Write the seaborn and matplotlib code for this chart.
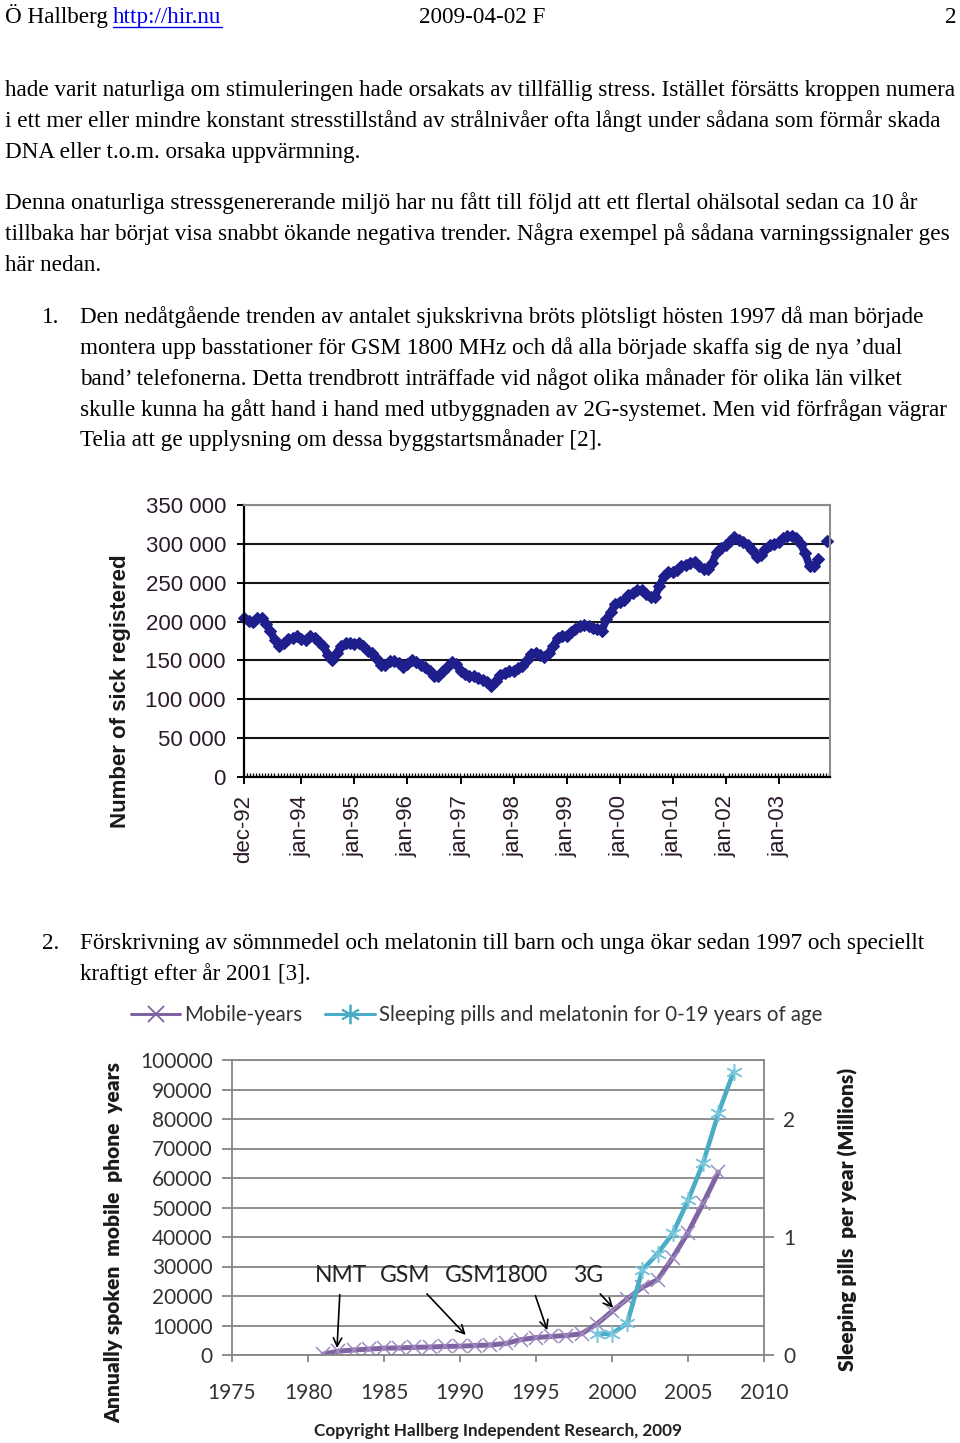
import pandas as pd
import matplotlib.pyplot as plt
import matplotlib.dates as mdates
from matplotlib.lines import Line2D
from matplotlib.ticker import FuncFormatter
import numpy as np
import seaborn as sns

# ---- data: sick registered, monthly from dec-92 to dec-03 (thousands), gap in nov-03
sick_thousands = [205, 201, 199, 204, 204, 197, 188, 176, 168, 172, 177, 179, 181,
                  178, 176, 181, 179, 174, 169, 157, 151, 160, 168, 172, 172,
                  171, 173, 169, 162, 159, 153, 144, 144, 149, 149, 147, 142,
                  145, 151, 148, 144, 141, 137, 130, 130, 137, 141, 148, 145,
                  137, 133, 130, 130, 128, 125, 122, 117, 124, 131, 134, 136,
                  137, 140, 143, 150, 158, 160, 157, 155, 160, 168, 179, 182,
                  182, 186, 190, 194, 195, 194, 192, 190, 188, 203, 212, 223,
                  225, 228, 234, 237, 240, 241, 236, 231, 232, 246, 258, 264,
                  264, 267, 272, 273, 276, 277, 272, 268, 268, 276, 290, 295,
                  298, 304, 309, 305, 302, 298, 292, 283, 286, 294, 298, 300,
                  302, 307, 310, 310, 307, 300, 288, 272, 272, 280, None, 304]
sick_segment = [0] * 131 + [1] * 2
sick_tick_dates = ["1992-12-01", "1994-01-01", "1995-01-01", "1996-01-01",
                   "1997-01-01", "1998-01-01", "1999-01-01", "2000-01-01",
                   "2001-01-01", "2002-01-01", "2003-01-01"]
sick_tick_labels = ["dec-92", "jan-94", "jan-95", "jan-96", "jan-97", "jan-98",
                    "jan-99", "jan-00", "jan-01", "jan-02", "jan-03"]
sick_yticks = [0, 50000, 100000, 150000, 200000, 250000, 300000, 350000]

# ---- data: mobile phone years and sleeping pills
mobile_year = [1981, 1982, 1983, 1984, 1985, 1986, 1987, 1988, 1989, 1990,
               1991, 1992, 1993, 1994, 1995, 1996, 1997, 1998, 1999, 2000,
               2001, 2002, 2003, 2004, 2005, 2006, 2007]
mobile_phone_years = [300, 1300, 1700, 2000, 2300, 2400, 2600, 2700, 2900, 3000,
                      3200, 3400, 3900, 5200, 5900, 6300, 6600, 7200, 10500, 14800,
                      19000, 23000, 25500, 33000, 41500, 51500, 62000]
pill_year = [1999, 2000, 2001, 2002, 2003, 2004, 2005, 2006, 2007, 2008]
pill_millions = [0.18, 0.18, 0.27, 0.72, 0.86, 1.03, 1.31, 1.63, 2.05, 2.40]
mobile_yticks = [0, 10000, 20000, 30000, 40000, 50000, 60000, 70000, 80000, 90000, 100000]
year_ticks = [1975, 1980, 1985, 1990, 1995, 2000, 2005, 2010]
events = ["NMT", "GSM", "GSM1800", "3G"]
event_text_x = [1982.2, 1986.4, 1992.4, 1998.4]
event_from = [(1982.1, 21400), (1987.7, 21400), (1994.9, 21000), (1999.1, 21400)]
event_to = [(1981.9, 1400), (1990.5, 6100), (1995.8, 7500), (2000.2, 15300)]

# ---- page text
header_y = 23
body_lines = [
    (5, 96, "hade varit naturliga om stimuleringen hade orsakats av tillfällig stress. Istället försätts kroppen numera"),
    (5, 127, "i ett mer eller mindre konstant stresstillstånd av strålnivåer ofta långt under sådana som förmår skada"),
    (5, 158, "DNA eller t.o.m. orsaka uppvärmning."),
    (5, 209, "Denna onaturliga stressgenererande miljö har nu fått till följd att ett flertal ohälsotal sedan ca 10 år"),
    (5, 240, "tillbaka har börjat visa snabbt ökande negativa trender. Några exempel på sådana varningssignaler ges"),
    (5, 271, "här nedan."),
    (42, 323, "1."),
    (80, 323, "Den nedåtgående trenden av antalet sjukskrivna bröts plötsligt hösten 1997 då man började"),
    (80, 354, "montera upp basstationer för GSM 1800 MHz och då alla började skaffa sig de nya \u2019dual"),
    (80, 385, "band\u2019 telefonerna. Detta trendbrott inträffade vid något olika månader för olika län vilket"),
    (80, 416, "skulle kunna ha gått hand i hand med utbyggnaden av 2G-systemet. Men vid förfrågan vägrar"),
    (80, 446, "Telia att ge upplysning om dessa byggstartsmånader [2]."),
    (42, 949, "2."),
    (80, 949, "Förskrivning av sömnmedel och melatonin till barn och unga ökar sedan 1997 och speciellt"),
    (80, 980, "kraftigt efter år 2001 [3]."),
]

W, H = 960, 1443


def fx(px):
    return px / W


def fy(py):
    return 1 - py / H


sns.set_style("white")
plt.rcParams['font.family'] = ['Liberation Sans', 'DejaVu Sans']

fig = plt.figure(figsize=(9.6, 14.43), dpi=100)

# page text
serif = dict(family=['Liberation Serif', 'DejaVu Serif'], fontsize=16.7, color='black', va='baseline')
fig.text(fx(5), fy(header_y), "Ö Hallberg", **serif)
fig.text(fx(113), fy(header_y), "http://hir.nu", **dict(serif, color='#0000EE'))
fig.add_artist(Line2D([fx(113), fx(222)], [fy(27), fy(27)], color='#0000EE', lw=1))
fig.text(fx(419), fy(header_y), "2009-04-02 F", **serif)
fig.text(fx(957), fy(header_y), "2", ha='right', **serif)
for x, y, s in body_lines:
    fig.text(fx(x), fy(y), s, **serif)

# ---- chart 1: sick registered
sick_df = pd.DataFrame({
    "month": pd.date_range("1992-12-01", periods=len(sick_thousands), freq="MS"),
    "sick": [v * 1000 if v is not None else np.nan for v in sick_thousands],
    "seg": sick_segment,
})
navy = "#1E1E8C"
ax1 = fig.add_axes([fx(244), fy(777), 586 / W, 272 / H])
sns.lineplot(data=sick_df, x="month", y="sick", units="seg", estimator=None, ax=ax1,
             color=navy, lw=5.5, marker="D", markersize=6,
             markeredgecolor=navy, markeredgewidth=0.8, clip_on=False)
ax1.set_xlim(pd.Timestamp("1992-12-01"), pd.Timestamp("2003-12-20"))
ax1.set_ylim(0, 350000)
ax1.set_yticks(sick_yticks)
ax1.yaxis.set_major_formatter(FuncFormatter(lambda v, p: f"{int(v):,}".replace(",", " ")))
ax1.set_xticks(pd.to_datetime(sick_tick_dates), sick_tick_labels)
t0 = mdates.date2num(pd.Timestamp("1992-12-01"))
t1 = mdates.date2num(pd.Timestamp("2003-12-20"))
ax1.set_xticks(np.arange(t0, t1, 21), minor=True)
ax1.grid(axis='y', color='#151515', lw=1.5)
ax1.grid(axis='x', visible=False)
ax1.set_axisbelow(True)
for side in ['left', 'bottom']:
    ax1.spines[side].set_color('black')
    ax1.spines[side].set_linewidth(1.6)
for side in ['top', 'right']:
    ax1.spines[side].set_color('#8c8c8c')
    ax1.spines[side].set_linewidth(1.5)
ax1.tick_params(axis='x', which='major', bottom=True, direction='out', length=5, width=1.4,
                color='black', pad=8, labelrotation=90, labelsize=16, labelcolor='#2a1a2a')
ax1.tick_params(axis='x', which='minor', bottom=True, direction='in', length=3, width=0.9,
                color='black')
ax1.tick_params(axis='y', left=True, direction='out', length=5, width=1.4, color='black',
                pad=8, labelsize=16, labelcolor='#2a1a2a')
ax1.set_xlabel("")
ax1.set_ylabel("Number of sick registered", fontsize=16, fontweight='bold', color='#1a1a1a')
ax1.yaxis.set_label_coords((131 - 244) / 586, 0.314)

# ---- chart 2: mobile phone years vs sleeping pills
mobile_df = pd.DataFrame({"year": mobile_year, "mobile": mobile_phone_years})
pill_df = pd.DataFrame({"year": pill_year, "pills": pill_millions})
calibri = ['Lato', 'DejaVu Sans']
purple, cyan = "#8064A2", "#4BACC6"
grey = "#868686"

ax2 = fig.add_axes([fx(232), fy(1355), 532 / W, 295 / H])
sns.lineplot(data=mobile_df, x="year", y="mobile", ax=ax2, color=purple, lw=3.6,
             marker="x", markersize=10, markeredgecolor="#A08CC2", markeredgewidth=1.1)
ax2.set_xlim(1975, 2010)
ax2.set_ylim(0, 100000)
ax2.set_xticks(year_ticks, [str(y) for y in year_ticks], family=calibri)
ax2.set_yticks(mobile_yticks, [str(v) for v in mobile_yticks], family=calibri)
ax2.grid(axis='y', color=grey, lw=1.3)
ax2.grid(axis='x', visible=False)
ax2.set_axisbelow(True)
for side in ax2.spines:
    ax2.spines[side].set_color(grey)
    ax2.spines[side].set_linewidth(1.3)
ax2.tick_params(axis='x', bottom=True, direction='out', length=5, width=1.3, color=grey,
                pad=15, labelsize=15, labelcolor='#333333')
ax2.tick_params(axis='y', left=True, direction='out', length=7, width=1.3, color=grey,
                pad=7, labelsize=15, labelcolor='#333333')
ax2.set_xlabel("")
ax2.set_ylabel("Annually spoken  mobile  phone  years", fontsize=15, fontweight='heavy',
               family=calibri, color='#1a1a1a')
ax2.yaxis.set_label_coords((123 - 232) / 532, 0.383)

ax3 = ax2.twinx()
sns.lineplot(data=pill_df, x="year", y="pills", ax=ax3, color=cyan, lw=3.3,
             marker=(6, 2, 0), markersize=12, markeredgecolor="#79C7DC", markeredgewidth=1.1)
ax3.set_ylim(0, 2.5)
ax3.set_yticks([0, 1, 2], ["0", "1", "2"], family=calibri)
ax3.grid(False)
for side in ax3.spines:
    ax3.spines[side].set_visible(False)
ax3.tick_params(axis='y', right=True, direction='out', length=7, width=1.3, color=grey,
                pad=7, labelsize=15, labelcolor='#333333')
ax3.set_ylabel("Sleeping pills  per year (Millions)", fontsize=15, fontweight='heavy',
               family=calibri, color='#1a1a1a')
ax3.yaxis.set_label_coords((838 - 232) / 532, 0.458)

for name, tx, start, tip in zip(events, event_text_x, event_from, event_to):
    ax2.text(tx, 26800, name, ha='center', va='center', fontsize=16.5, family=calibri,
             color='#222222')
    ax2.annotate("", xy=tip, xytext=start,
                 arrowprops=dict(arrowstyle='->,head_length=0.6,head_width=0.3',
                                 color='black', lw=1.2))

handles = [Line2D([0], [0], color=purple, lw=2.2, marker='x', ms=12, mew=1.3, mec=purple),
           Line2D([0], [0], color=cyan, lw=2.2, marker=(6, 2, 0), ms=14, mew=1.3, mec=cyan)]
fig.legend(handles, ["Mobile-years", "Sleeping pills and melatonin for 0-19 years of age"],
           loc='center left', bbox_to_anchor=(fx(131), fy(1015)), ncol=2, frameon=False,
           borderpad=0, borderaxespad=0, handlelength=2.4, handletextpad=0.2,
           columnspacing=1.1, prop={'family': calibri, 'size': 14.8}, labelcolor='#333333')

fig.text(fx(498), fy(1431), "Copyright Hallberg Independent Research, 2009", ha='center',
         va='center', fontsize=12.3, fontweight='bold', family=calibri, color='#222222')

plt.savefig("out.png", dpi=100)
